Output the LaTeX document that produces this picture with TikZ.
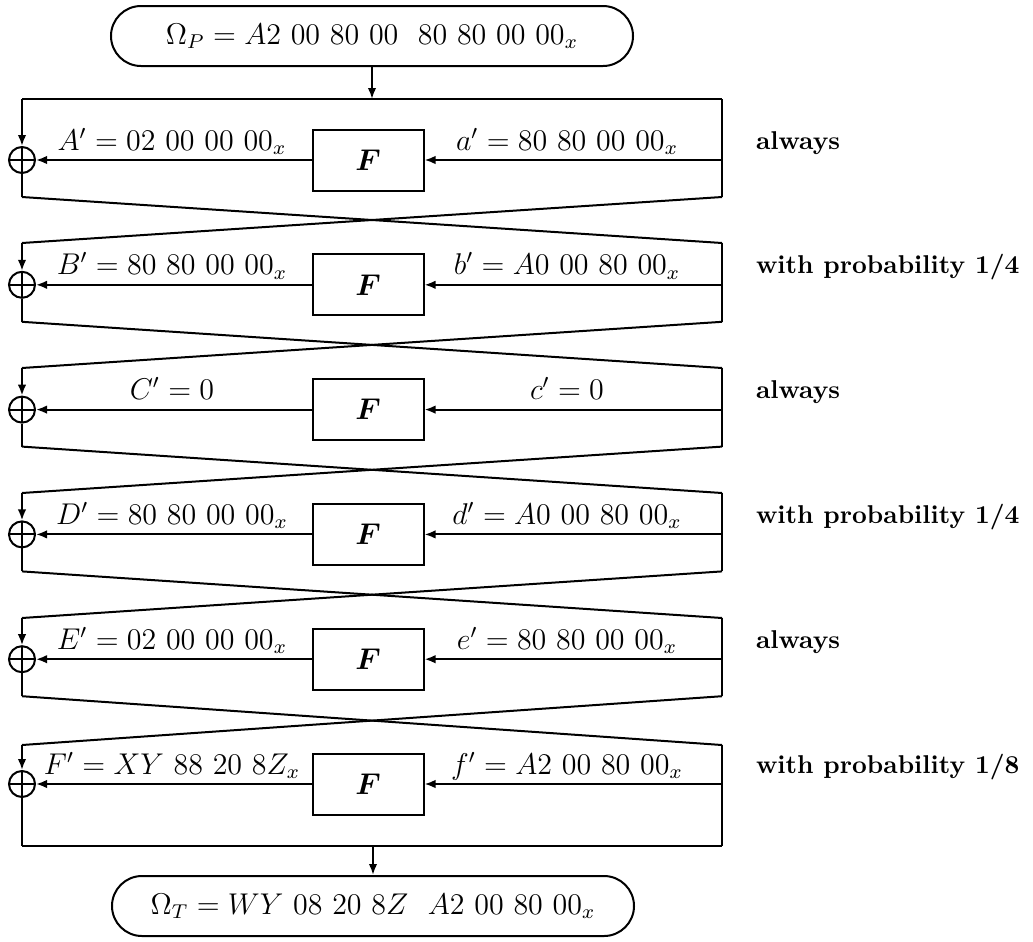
\documentclass[tikz,border=0pt]{standalone}
\usetikzlibrary{arrows.meta}
\begin{document}
\begin{tikzpicture}[x=0.4pt,y=-0.4pt, line width=0.8pt,
  fbox/.style={draw, minimum width=44.4pt, minimum height=24.4pt, inner sep=0pt, font=\fontsize{13}{15}\selectfont\boldmath},
  xorn/.style={draw, circle, minimum size=10.4pt, inner sep=0pt,
    path picture={\draw (path picture bounding box.north) -- (path picture bounding box.south)
      (path picture bounding box.west) -- (path picture bounding box.east);}},
  term/.style={draw, rounded corners=12pt, minimum width=208.8pt, minimum height=24pt, inner sep=0pt, font=\fontsize{12}{14}\selectfont},
  arr/.style={-{Latex[length=4.4pt,width=3.4pt]}},
  lbl/.style={anchor=base, inner sep=0pt, font=\fontsize{12}{14}\selectfont},
  prob/.style={anchor=base west, inner sep=0pt, font=\fontsize{10.3}{12}\selectfont\bfseries}]
\useasboundingbox (0,0) rectangle (1033,941);
\node[term] (tp) at (372,36) {$\Omega_P = A2\ 00\ 80\ 00\ \ 80\ 80\ 00\ 00_x$};
\node[term] (bt) at (373,906) {$\Omega_T = WY\ 08\ 20\ 8Z\ \ A2\ 00\ 80\ 00_x$};
\foreach \k/\fy/\ty/\by in {1/160/99/197, 2/284.8/243/321.8, 3/409.6/368/446.6, 4/534.4/493/571.4, 5/659.2/618/696.2, 6/784/745/846} {
  \node[fbox] (f\k) at (368,\fy) {$F$};
  \node[xorn] (x\k) at (22,\fy) {};
  \coordinate (tl\k) at (22,\ty);
  \coordinate (tr\k) at (722,\ty);
  \coordinate (bl\k) at (22,\by);
  \coordinate (br\k) at (722,\by);
  \coordinate (ri\k) at (722,\fy);
  \draw[arr] (tl\k) -- (x\k.north);
  \draw (x\k.south) -- (bl\k);
  \draw (tr\k) -- (br\k);
  \draw[arr] (ri\k) -- (f\k.east);
  \draw[arr] (f\k.west) -- (x\k.east);
}
\foreach \k/\n in {1/2,2/3,3/4,4/5,5/6} {
  \draw (bl\k) -- (tr\n);
  \draw (br\k) -- (tl\n);
}
\draw (tl1) -- (tr1);
\draw[arr] (tp.south) -- (tp.south |- tl1);
\draw (bl6) -- (br6);
\draw[arr] (bt.north |- bl6) -- (bt.north);
% labels
\node[lbl] (la1) at (172,150) {$A' = 02\ 00\ 00\ 00_x$};
\node[lbl] (ra1) at (567,150) {$a' = 80\ 80\ 00\ 00_x$};
\node[prob] (p1) at (755,149) {always};
\node[lbl] (la2) at (172,274.8) {$B' = 80\ 80\ 00\ 00_x$};
\node[lbl] (ra2) at (567,274.8) {$b' = A0\ 00\ 80\ 00_x$};
\node[prob] (p2) at (755,273.8) {with probability 1/4};
\node[lbl] (la3) at (172,399.6) {$C' = 0$};
\node[lbl] (ra3) at (567,399.6) {$c' = 0$};
\node[prob] (p3) at (755,398.6) {always};
\node[lbl] (la4) at (172,524.4) {$D' = 80\ 80\ 00\ 00_x$};
\node[lbl] (ra4) at (567,524.4) {$d' = A0\ 00\ 80\ 00_x$};
\node[prob] (p4) at (755,523.4) {with probability 1/4};
\node[lbl] (la5) at (172,649.2) {$E' = 02\ 00\ 00\ 00_x$};
\node[lbl] (ra5) at (567,649.2) {$e' = 80\ 80\ 00\ 00_x$};
\node[prob] (p5) at (755,648.2) {always};
\node[lbl] (la6) at (172,774) {$F' = XY\ 88\ 20\ 8Z_x$};
\node[lbl] (ra6) at (567,774) {$f' = A2\ 00\ 80\ 00_x$};
\node[prob] (p6) at (755,773) {with probability 1/8};
\end{tikzpicture}
\end{document}
